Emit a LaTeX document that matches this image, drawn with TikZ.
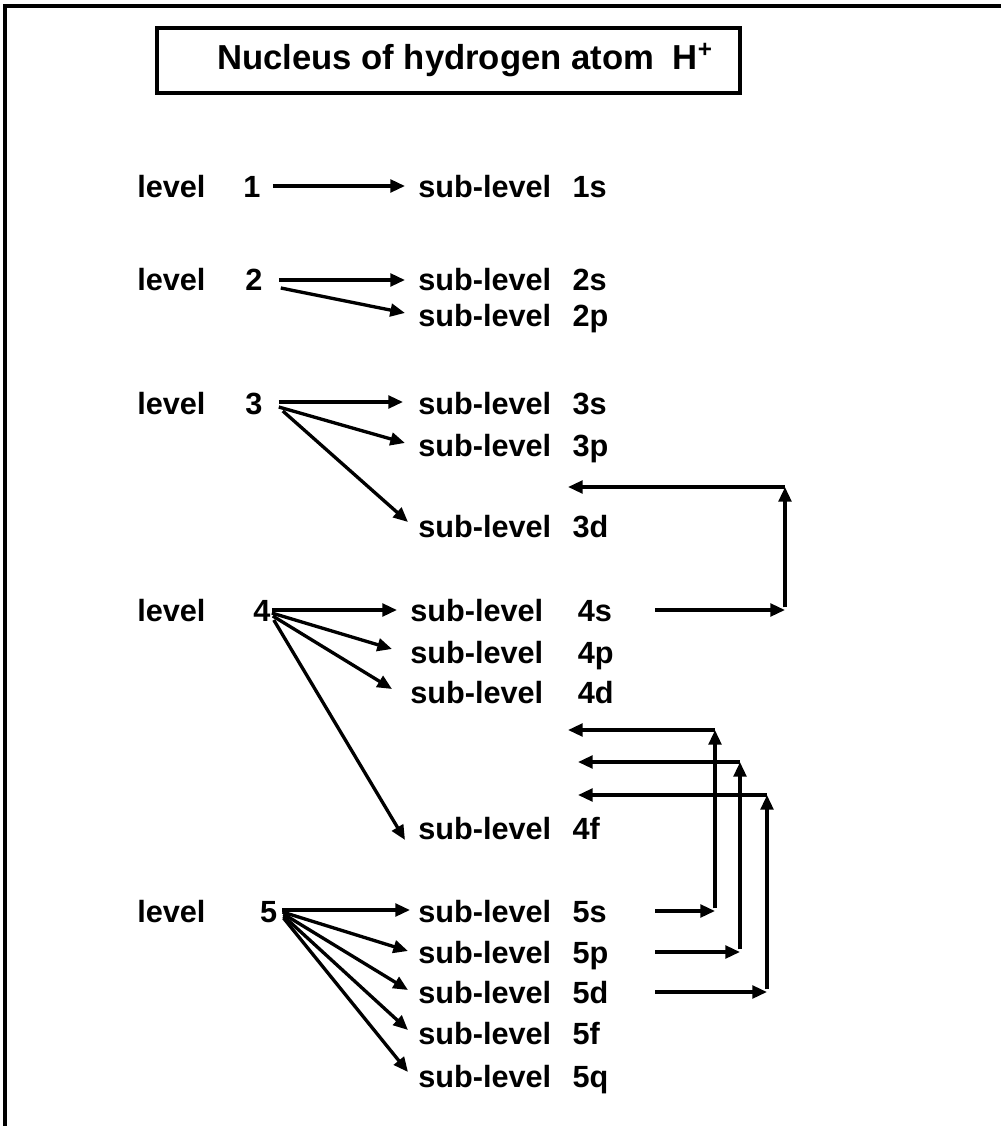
\documentclass[tikz,border=0pt]{standalone}
\usepackage{fontspec}
\setmainfont{Liberation Sans}
\usetikzlibrary{arrows.meta}
\begin{document}
\begin{tikzpicture}[x=0.75pt,y=-0.75pt,
  lbl/.style={font=\fontsize{23}{27}\selectfont\bfseries, inner sep=0pt, anchor=west, text height=16.5pt, text depth=0pt},
  arr/.style={line width=2.5pt, -{Triangle[length=11pt,width=9.5pt]}},
  frame/.style={line width=2.4pt}]
\useasboundingbox (0,0) rectangle (1001,1126);
% outer frame (top and left edges)
\draw[frame] (5,1126) -- (5,6) -- (1001,6);
% title
\node[draw, line width=2.4pt, inner xsep=0pt, minimum height=48.75pt,
      font=\fontsize{26}{31}\selectfont\bfseries] (title) at (448.5,60.5)
      {\makebox[437.25pt][l]{\hspace{45pt}Nucleus of hydrogen atom\hspace{14pt}H\textsuperscript{+}}};
% levels
\node[lbl] (L1) at (137,187) {level\hspace{28.5pt}1};
\node[lbl] (L2) at (137,280) {level\hspace{30pt}2};
\node[lbl] (L3) at (137,403) {level\hspace{30pt}3};
\node[lbl] (L4) at (137,610) {level\hspace{36pt}4};
\node[lbl] (L5) at (137,911) {level\hspace{41pt}5};
% sub-levels
\node[lbl] (S1s) at (418,187) {sub-level\hspace{16pt}1s};
\node[lbl] (S2s) at (418,280) {sub-level\hspace{16pt}2s};
\node[lbl] (S2p) at (418,316) {sub-level\hspace{16pt}2p};
\node[lbl] (S3s) at (418,403) {sub-level\hspace{16pt}3s};
\node[lbl] (S3p) at (418,445) {sub-level\hspace{16pt}3p};
\node[lbl] (S3d) at (418,526) {sub-level\hspace{16pt}3d};
\node[lbl] (S4s) at (410,610) {sub-level\hspace{26pt}4s};
\node[lbl] (S4p) at (410,652) {sub-level\hspace{26pt}4p};
\node[lbl] (S4d) at (410,692) {sub-level\hspace{26pt}4d};
\node[lbl] (S4f) at (418,828) {sub-level\hspace{16pt}4f};
\node[lbl] (S5s) at (418,911) {sub-level\hspace{16pt}5s};
\node[lbl] (S5p) at (418,952) {sub-level\hspace{16pt}5p};
\node[lbl] (S5d) at (418,992) {sub-level\hspace{16pt}5d};
\node[lbl] (S5f) at (418,1033) {sub-level\hspace{16pt}5f};
\node[lbl] (S5q) at (418,1076) {sub-level\hspace{16pt}5q};
% level -> sub-level arrows
\draw[arr] ([shift={(12,-1)}]L1.east) -- ([shift={(-13,-1)}]S1s.west);
\draw[arr] ([shift={(16,0)}]L2.east) -- ([shift={(-13,0)}]S2s.west);
\draw[arr] ([shift={(18,8)}]L2.east) -- ([shift={(-13,-3)}]S2p.west);
\draw[arr] ([shift={(16,-1)}]L3.east) -- ([shift={(-15,-1)}]S3s.west);
\draw[arr] ([shift={(16,4)}]L3.east) -- ([shift={(-13,-2)}]S3p.west);
\draw[arr] ([shift={(20,8)}]L3.east) -- ([shift={(-10,-4)}]S3d.west);
\draw[arr] ([shift={(1,0)}]L4.east) -- ([shift={(-13,0)}]S4s.west);
\draw[arr] ([shift={(1,3)}]L4.east) -- ([shift={(-18,-3)}]S4p.west);
\draw[arr] ([shift={(2,6)}]L4.east) -- ([shift={(-18,-3)}]S4d.west);
\draw[arr] ([shift={(3,10)}]L4.east) -- ([shift={(-13,12)}]S4f.west);
\draw[arr] ([shift={(5,-1)}]L5.east) -- ([shift={(-8,-1)}]S5s.west);
\draw[arr] ([shift={(5,1)}]L5.east) -- ([shift={(-10,-1)}]S5p.west);
\draw[arr] ([shift={(6,3)}]L5.east) -- ([shift={(-10,-2)}]S5d.west);
\draw[arr] ([shift={(6,5)}]L5.east) -- ([shift={(-10,-3)}]S5f.west);
\draw[arr] ([shift={(6,7)}]L5.east) -- ([shift={(-10,-4)}]S5q.west);
% filling-order loops
\coordinate (st) at (655,0);
\coordinate (v1b) at (785,610); \coordinate (v1t) at (785,487); \coordinate (h1) at (568,487);
\coordinate (v2b) at (715,911); \coordinate (v2t) at (715,730); \coordinate (h2) at (568,730);
\coordinate (v3b) at (740,952); \coordinate (v3t) at (740,762); \coordinate (h3) at (578,762);
\coordinate (v4b) at (767,992); \coordinate (v4t) at (767,795); \coordinate (h4) at (578,795);
\draw[arr] (S4s.east -| st) -- (v1b);
\draw[arr] ([yshift=2]v1b) -- (v1t);
\draw[arr] (v1t) -- (h1);
\draw[arr] (S5s.east -| st) -- (v2b);
\draw[arr] ([yshift=2]v2b) -- (v2t);
\draw[arr] (v2t) -- (h2);
\draw[arr] (S5p.east -| st) -- (v3b);
\draw[arr] ([yshift=2]v3b) -- (v3t);
\draw[arr] (v3t) -- (h3);
\draw[arr] (S5d.east -| st) -- (v4b);
\draw[arr] ([yshift=2]v4b) -- (v4t);
\draw[arr] (v4t) -- (h4);
\end{tikzpicture}
\end{document}
